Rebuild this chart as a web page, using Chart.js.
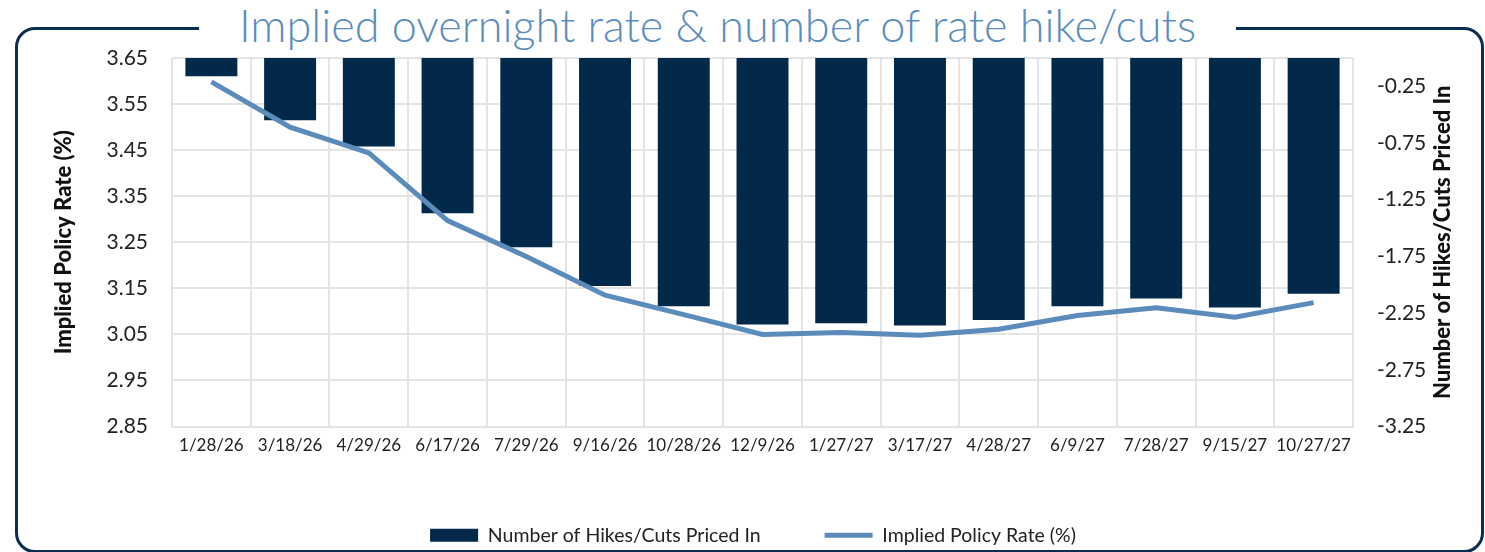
<!DOCTYPE html>
<html lang="en">
<head>
    <meta charset="UTF-8">
    <script src="https://cdnjs.cloudflare.com/ajax/libs/Chart.js/4.4.1/chart.umd.min.js"></script>
    <title>Implied overnight rate</title>
    <style>
        html, body { margin: 0; padding: 0; background: #fff; overflow: hidden; }
        .frame {
            position: absolute; left: 15px; top: 27px; width: 1463px; height: 520px;
            border: 3px solid #0b2d4f; border-radius: 20px;
        }
        .title {
            position: absolute; left: 199px; width: 1037px; top: 0; height: 52px;
            background: #fff; text-align: center;
            font-family: Lato, sans-serif; font-weight: 300; font-size: 45px;
            color: #5b8dbd; line-height: 50px; white-space: nowrap;
        }
        .wrap { position: absolute; left: 0; top: 0; width: 1485px; height: 555px; }
    </style>
</head>
<body>
    <div class="frame"></div>
    <div class="title">Implied overnight rate &amp; number of rate hike/cuts</div>
    <div class="wrap">
        <canvas id="canvas"></canvas>
    </div>
<script>

var meetingDates = ['1/28/26','3/18/26','4/29/26','6/17/26','7/29/26','9/16/26','10/28/26',
    '12/9/26','1/27/27','3/17/27','4/28/27','6/9/27','7/28/27','9/15/27','10/27/27']

var hikesCuts = [-0.16, -0.55, -0.78, -1.37, -1.67, -2.01, -2.19,
    -2.35, -2.34, -2.36, -2.31, -2.19, -2.12, -2.20, -2.08]

var policyRate = [3.598, 3.500, 3.444, 3.297, 3.219, 3.135, 3.093,
    3.050, 3.054, 3.048, 3.061, 3.091, 3.108, 3.087, 3.119]

var rateTicks = [2.85, 2.95, 3.05, 3.15, 3.25, 3.35, 3.45, 3.55, 3.65]
var hikeTicks = [-3.25, -2.75, -2.25, -1.75, -1.25, -0.75, -0.25]

var navy = '#03294a'
var steel = '#5a8bbb'
var grid = '#e4e4e4'
var fontName = 'Lato, sans-serif'
var axisTitleFont = { family: fontName, size: 22, weight: '900' }

// right-hand axis title, written bottom-to-top like the left one
const rightTitle = {
    id: 'rightTitle',
    afterDraw(chart) {
        const s = chart.scales.yHikes
        const c = chart.ctx
        c.save()
        c.font = Chart.helpers.toFont(axisTitleFont).string
        c.fillStyle = '#111'
        c.textAlign = 'center'
        c.textBaseline = 'middle'
        c.translate(1443, (s.top + s.bottom) / 2)
        c.rotate(-Math.PI / 2)
        c.fillText('Number of Hikes/Cuts Priced In', 0, 0)
        c.restore()
    }
}

window.onload = () => {

    let ctx = document.getElementById('canvas')
    let chart = new Chart(ctx, {
        data: {
            labels: meetingDates,
            datasets: [{
                type: 'bar',
                label: 'Number of Hikes/Cuts Priced In',
                data: hikesCuts,
                backgroundColor: navy,
                yAxisID: 'yHikes',
                barPercentage: 0.66,
                categoryPercentage: 1,
                order: 2
            }, {
                type: 'line',
                label: 'Implied Policy Rate (%)',
                data: policyRate,
                borderColor: steel,
                backgroundColor: steel,
                borderWidth: 5,
                pointRadius: 0,
                tension: 0,
                yAxisID: 'yRate',
                order: 1
            }]
        },
        plugins: [rightTitle],
        options: {
            responsive: true,
            maintainAspectRatio: false,
            animation: false,
            layout: { padding: { top: 58, left: 51, right: 30, bottom: 0 } },
            plugins: {
                tooltip: { enabled: false },
                legend: {
                    position: 'bottom',
                    labels: {
                        usePointStyle: true,
                        pointStyleWidth: 48,
                        boxHeight: 13,
                        padding: 64,
                        color: '#222',
                        font: { family: fontName, size: 19.5 },
                        generateLabels: (c) => c.data.datasets.map((ds, i) => ({
                            text: ds.label,
                            datasetIndex: i,
                            fillStyle: ds.type === 'bar' ? navy : steel,
                            strokeStyle: ds.type === 'bar' ? navy : steel,
                            lineWidth: ds.type === 'bar' ? 0 : 5,
                            pointStyle: ds.type === 'bar' ? 'rect' : 'line',
                            fontColor: '#222'
                        }))
                    }
                }
            },
            scales: {
                x: {
                    offset: true,
                    grid: { color: grid, lineWidth: 2, offset: true, drawTicks: false },
                    border: { color: grid, width: 2 },
                    ticks: {
                        color: '#222', padding: 9, maxRotation: 0, autoSkip: false,
                        font: { family: fontName, size: 17 }
                    },
                    afterFit: (s) => { s.height = 555 - 427 - 93 }
                },
                yRate: {
                    position: 'left',
                    min: 2.85,
                    max: 3.65,
                    afterBuildTicks: (s) => { s.ticks = rateTicks.map(v => ({ value: v })) },
                    grid: { color: grid, lineWidth: 2, drawTicks: false },
                    border: { display: false },
                    ticks: {
                        color: '#222', padding: 24,
                        font: { family: fontName, size: 21 },
                        callback: (v) => v.toFixed(2)
                    },
                    title: {
                        display: true, text: 'Implied Policy Rate (%)', color: '#111',
                        padding: 0, font: axisTitleFont
                    },
                    afterFit: (s) => { s.width = 172 - 51 }
                },
                yHikes: {
                    position: 'right',
                    min: -3.25,
                    max: 0,
                    afterBuildTicks: (s) => { s.ticks = hikeTicks.map(v => ({ value: v })) },
                    grid: { drawOnChartArea: false, drawTicks: false },
                    border: { display: false },
                    ticks: {
                        color: '#222', padding: 24,
                        font: { family: fontName, size: 21 },
                        callback: (v) => v.toFixed(2)
                    },
                    afterFit: (s) => { s.width = 1485 - 30 - 1353 }
                }
            }
        }
    })
}

</script>
</body>
</html>
